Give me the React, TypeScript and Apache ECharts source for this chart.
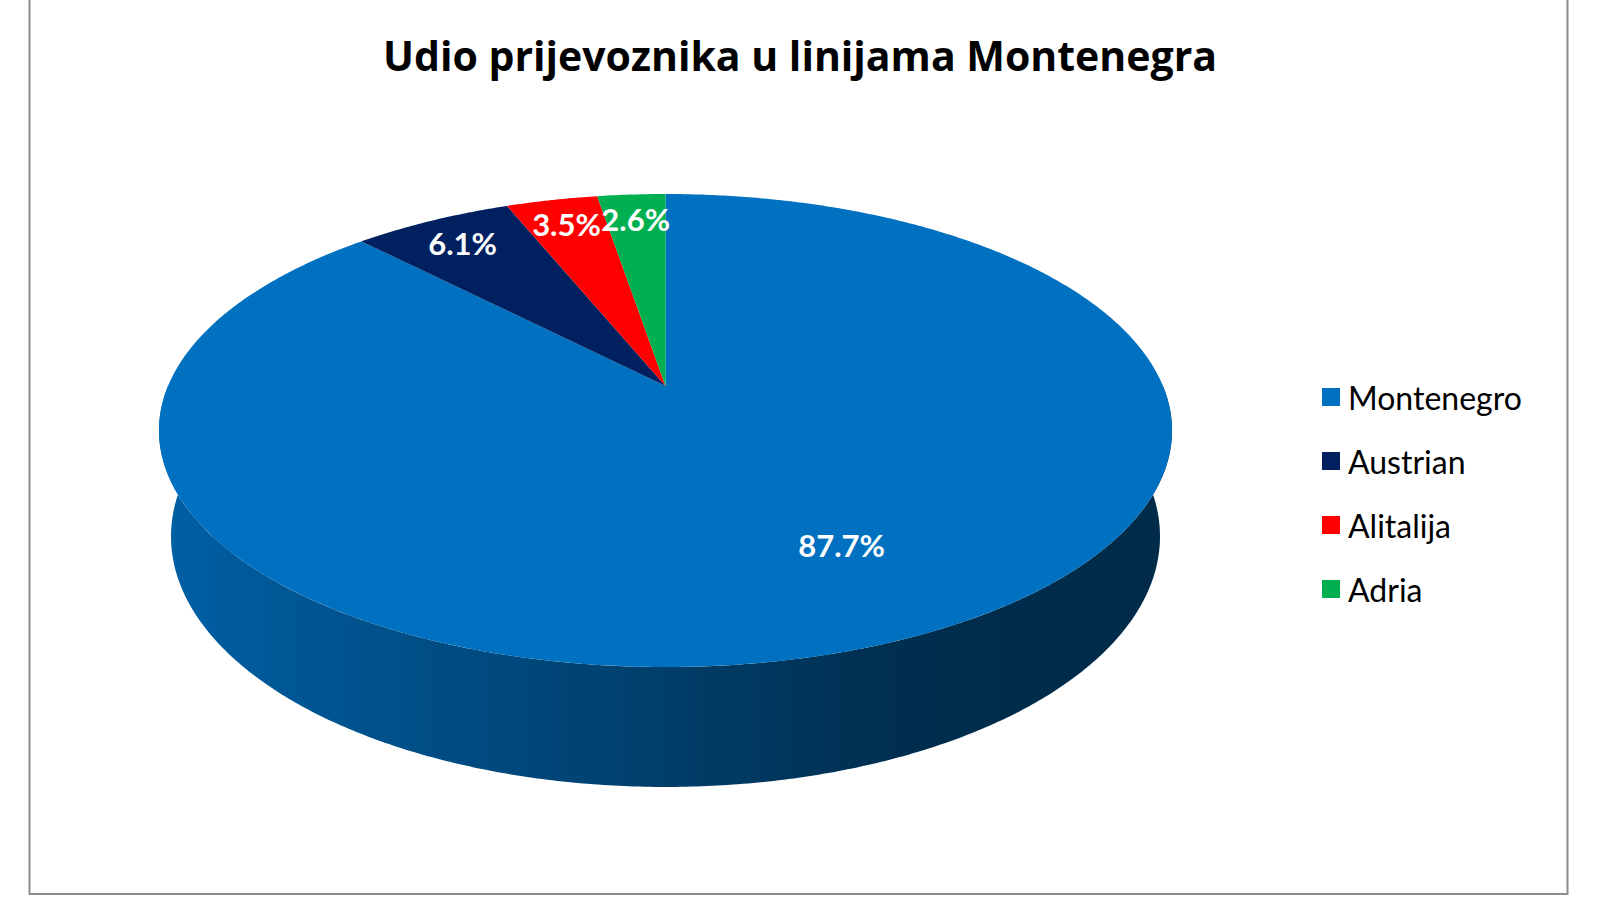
import React, { useEffect, useRef } from "react";
import * as echarts from "echarts";

const TITLE = "Udio prijevoznika u linijama Montenegra";
const carriers = ["Montenegro", "Austrian", "Alitalija", "Adria"];
const shares = [87.7, 6.1, 3.5, 2.6];
const colors = ["#0070C0", "#002060", "#FF0000", "#00B050"];

// view geometry of the tilted 3D pie (perspective projection)
const CX = 665.5;
const CY = 386;
const K = 2349;
const DIST = 4.722;
const SIN_T = 0.4586;
const COS_T = 0.8887;
const THICK = 0.2415;

function proj(deg: number, r: number, y: number): number[] {
  const a = (deg * Math.PI) / 180;
  const x = r * Math.sin(a);
  const z = r * Math.cos(a);
  const depth = DIST - y * SIN_T + z * COS_T;
  return [CX + (K * x) / depth, CY - (K * (y * COS_T + z * SIN_T)) / depth];
}

function shade(hex: string, f: number): string {
  const n = parseInt(hex.slice(1), 16);
  const r = Math.round(((n >> 16) & 255) * f);
  const g = Math.round(((n >> 8) & 255) * f);
  const b = Math.round((n & 255) * f);
  return `rgb(${r},${g},${b})`;
}

const total = shares.reduce((s, v) => s + v, 0);
const startAngles: number[] = [];
{
  let acc = 0;
  shares.forEach((v) => {
    startAngles.push((acc / total) * 360);
    acc += v;
  });
}
const endAngle = (i: number) => startAngles[i] + (shares[i] / total) * 360;

function arc(a0: number, a1: number, y: number): number[][] {
  const pts: number[][] = [];
  const n = Math.max(2, Math.ceil(Math.abs(a1 - a0) / 0.5));
  for (let j = 0; j <= n; j++) pts.push(proj(a0 + ((a1 - a0) * j) / n, 1, y));
  return pts;
}

export default function App() {
  const ref = useRef<HTMLDivElement>(null);
  useEffect(() => {
    if (!ref.current) return;
    const chart = echarts.init(ref.current, null, { renderer: "svg" });

    const sideSeries = {
      type: "custom",
      name: "__side",
      coordinateSystem: "none",
      z: 1,
      silent: true,
      data: shares.map((v, i) => [i, v]),
      renderItem: (params: any) => {
        const i = params.dataIndex;
        const lo = Math.max(startAngles[i], 90);
        const hi = Math.min(endAngle(i), 270);
        if (hi <= lo) return { type: "group", children: [] };
        const top = arc(lo, hi, 0);
        const bottom = arc(hi, lo, -THICK);
        return {
          type: "polygon",
          shape: { points: top.concat(bottom) },
          style: {
            fill: {
              type: "linear",
              x: CX - 510,
              y: 0,
              x2: CX + 510,
              y2: 0,
              global: true,
              colorStops: [
                { offset: 0, color: shade(colors[i], 0.86) },
                { offset: 0.5, color: shade(colors[i], 0.55) },
                { offset: 0.75, color: shade(colors[i], 0.4) },
                { offset: 1, color: shade(colors[i], 0.38) },
              ],
            },
          },
        };
      },
    };

    const topSeries = carriers.map((name, i) => ({
      type: "custom",
      name,
      coordinateSystem: "none",
      z: 2,
      silent: true,
      itemStyle: { color: colors[i] },
      data: [[i, shares[i]]],
      renderItem: () => {
        const a0 = startAngles[i];
        const a1 = endAngle(i);
        const pts = [proj(0, 0, 0)].concat(arc(a0, a1, 0));
        const inside = shares[i] / total > 0.5;
        const mid = (a0 + a1) / 2 - (inside ? 5 : 0);
        const lp = proj(mid, inside ? 0.69 : 0.85, 0);
        return {
          type: "group",
          children: [
            {
              type: "polygon",
              shape: { points: pts },
              style: { fill: colors[i] },
            },
            {
              type: "text",
              z2: 100,
              x: lp[0],
              y: lp[1],
              style: {
                text: `${shares[i].toFixed(1)}%`,
                fill: "#ffffff",
                font: "bold 31px Lato",
                align: "center",
                verticalAlign: "middle",
              },
            },
          ],
        };
      },
    }));

    chart.setOption({
      animation: false,
      backgroundColor: "#ffffff",
      title: {
        text: TITLE,
        left: "center",
        top: 29,
        textStyle: {
          fontFamily: "Open Sans",
          fontWeight: "bold",
          fontSize: 41,
          color: "#000000",
        },
      },
      legend: {
        data: carriers,
        orient: "vertical",
        left: 1317,
        top: 376,
        icon: "rect",
        itemWidth: 18,
        itemHeight: 18,
        itemGap: 32,
        selectedMode: false,
        textStyle: {
          fontFamily: "Lato",
          fontSize: 32,
          lineHeight: 30,
          color: "#000000",
          padding: [0, 0, 0, 3],
        },
      },
      graphic: [
        {
          type: "rect",
          silent: true,
          shape: { x: 29.5, y: -5, width: 1538, height: 899 },
          style: { fill: "none", stroke: "#8c8c8c", lineWidth: 2 },
        },
      ],
      series: [sideSeries, ...topSeries],
    });
    return () => chart.dispose();
  }, []);
  return (
    <div
      ref={ref}
      style={{ position: "fixed", left: 0, top: 0, width: 1600, height: 900, background: "#fff" }}
    />
  );
}
